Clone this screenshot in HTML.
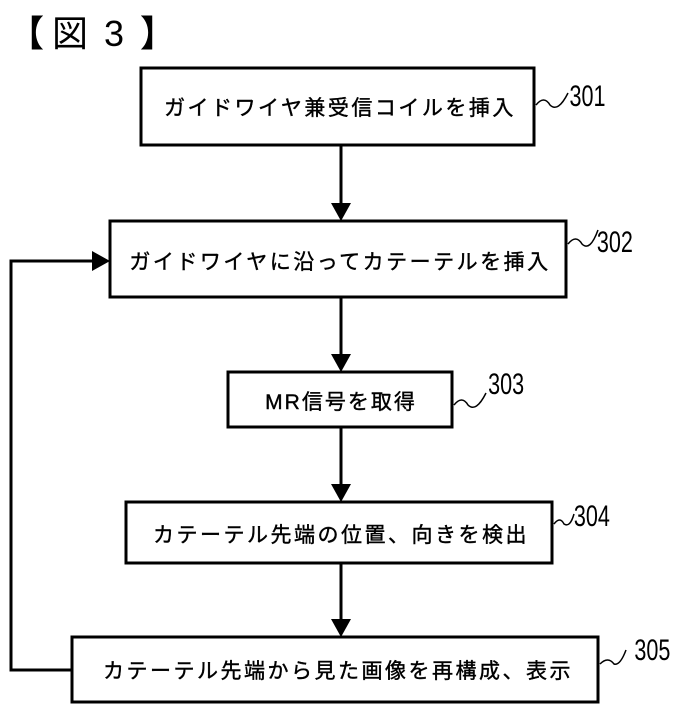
<!DOCTYPE html>
<html><head><meta charset="utf-8"><style>
body{margin:0;background:#fff;}
svg text{font-family:"Liberation Sans","Noto Sans CJK JP",sans-serif;fill:#000;}
</style></head><body>
<svg width="682" height="713" viewBox="0 0 682 713" xmlns="http://www.w3.org/2000/svg">
<g font-size="36">
<text x="8" y="46" font-weight="bold">【</text>
<text x="52" y="46">図</text>
<text x="104" y="46">3</text>
<text x="140" y="46" font-weight="bold">】</text>
</g>
<g fill="none" stroke="#000" stroke-width="3">
<rect x="141" y="68" width="393" height="77"/>
<rect x="110" y="221" width="456" height="76"/>
<rect x="228" y="372" width="224" height="55"/>
<rect x="126" y="502" width="426" height="61"/>
<rect x="72" y="637" width="526" height="65"/>
<line x1="341" y1="145" x2="341" y2="203"/>
<line x1="341" y1="297" x2="341" y2="354"/>
<line x1="341" y1="427" x2="341" y2="484"/>
<line x1="341" y1="563" x2="341" y2="619"/>
<polyline points="72,670 11,670 11,261 93,261"/>
<path d="M536,105 q8,-10 14,0 q8,8 18,-12" stroke-width="1.5"/>
<path d="M568,244 q8,-10 14,0 q8,8 16,-14" stroke-width="1.5"/>
<path d="M454,405 q8,-10 14,0 q8,8 18,-12" stroke-width="1.5"/>
<path d="M554,524 q6,-8 10,0 q6,4 10,-10" stroke-width="1.5"/>
<path d="M600,664 q8,-8 14,0 q6,2 12,-14" stroke-width="1.5"/>
</g>
<g fill="#000">
<polygon points="331,203 351,203 341,221"/>
<polygon points="331,354 351,354 341,372"/>
<polygon points="331,484 351,484 341,502"/>
<polygon points="331,619 351,619 341,637"/>
<polygon points="92,251 92,271 110,261"/>
</g>
<g font-size="21" text-anchor="middle" stroke="#000" stroke-width="0.4">
<text x="340" y="115" letter-spacing="2.5">ガイドワイヤ兼受信コイルを挿入</text>
<text x="340" y="269" letter-spacing="2.5">ガイドワイヤに沿ってカテーテルを挿入</text>
<text x="341" y="409" letter-spacing="2">MR信号を取得</text>
<text x="341" y="542" letter-spacing="2.5">カテーテル先端の位置、向きを検出</text>
<text x="338" y="678" letter-spacing="2.5">カテーテル先端から見た画像を再構成、表示</text>
</g>
<g font-size="30" transform="scale(0.72,1)">
<text x="791" y="106">301</text>
<text x="829" y="252">302</text>
<text x="678" y="394">303</text>
<text x="797" y="526">304</text>
<text x="881" y="660">305</text>
</g>
</svg>
</body></html>
